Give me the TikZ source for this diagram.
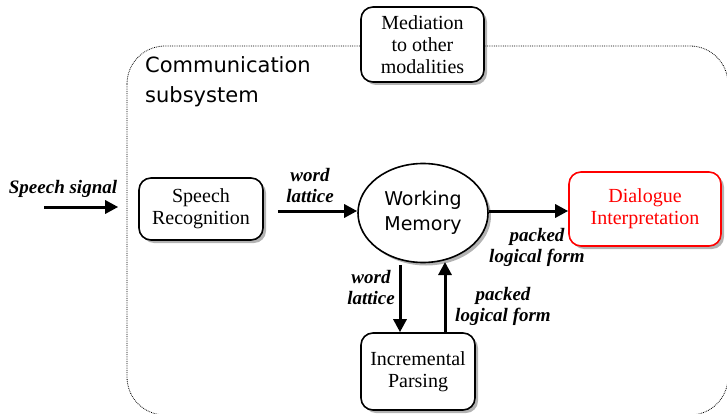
\documentclass[tikz,border=0pt]{standalone}
\usepackage{fontspec}
\setmainfont{Liberation Serif}
\newfontfamily\dvs{DejaVu Sans}
\usetikzlibrary{shapes.geometric,shadows,arrows.meta}
\begin{document}
\begin{tikzpicture}[x=1pt,y=-1pt,
  box/.style={draw,line width=1.6pt,rounded corners=12pt,fill=white,align=center,
    drop shadow={shadow xshift=3pt,shadow yshift=-3pt,opacity=0.6},
    font=\fontsize{20}{22}\selectfont,inner sep=0pt},
  lbl/.style={font=\fontsize{19}{21}\selectfont\itshape\bfseries,align=center,inner sep=0pt},
  arr/.style={-{Triangle[length=13pt,width=13pt]},line width=3pt}]
\useasboundingbox (0,0) rectangle (727,414);
\clip (0,0) rectangle (727,414);
% container
\draw[densely dotted,line width=0.8pt,rounded corners=38pt] (127,46) rectangle (728,415);
\node[anchor=west,font=\dvs\fontsize{21}{30}\selectfont,align=left,inner sep=0pt] (cs) at (145,82) {Communication\\subsystem};
% nodes
\node[box,minimum width=123pt,minimum height=75pt] (med) at (422.5,44.5) {Mediation\\to other\\modalities};
\node[box,minimum width=124pt,minimum height=62pt] (sr) at (201,209) {Speech\\Recognition};
\node[draw,line width=1.6pt,ellipse,fill=white,minimum width=130pt,minimum height=99pt,inner sep=0pt,
  drop shadow={shadow xshift=3pt,shadow yshift=-3pt,opacity=0.6},
  font=\dvs\fontsize{19}{25}\selectfont,align=center] (wm) at (423,213) {Working\\Memory};
\node[box,draw=red,text=red,minimum width=152pt,minimum height=74pt] (di) at (645,209) {Dialogue\\Interpretation};
\node[box,minimum width=114pt,minimum height=77pt] (ip) at (418,371.5) {Incremental\\Parsing};
% arrows
\coordinate (ss) at (44,207);
\node[lbl,anchor=south] (ssl) at (63,198) {Speech signal};
\draw[arr] (ss) -- ([xshift=-20pt]sr.west |- ss);
\draw[arr] ([xshift=14pt]sr.east |- 0,211) -- (wm.west |- 0,211);
\node[lbl] (l1) at (310,186) {word\\lattice};
\draw[arr] (wm.east |- 0,211) -- (di.west |- 0,211);
\node[lbl] (l2) at (537,247) {packed\\logical form};
\draw[arr] (400,265) -- (ip.north -| 400,0);
\node[lbl] (l3) at (371,288) {word\\lattice};
\draw[arr] (ip.north -| 445,0) -- (445,262);
\node[lbl] (l4) at (503,306) {packed\\logical form};
\end{tikzpicture}
\end{document}
